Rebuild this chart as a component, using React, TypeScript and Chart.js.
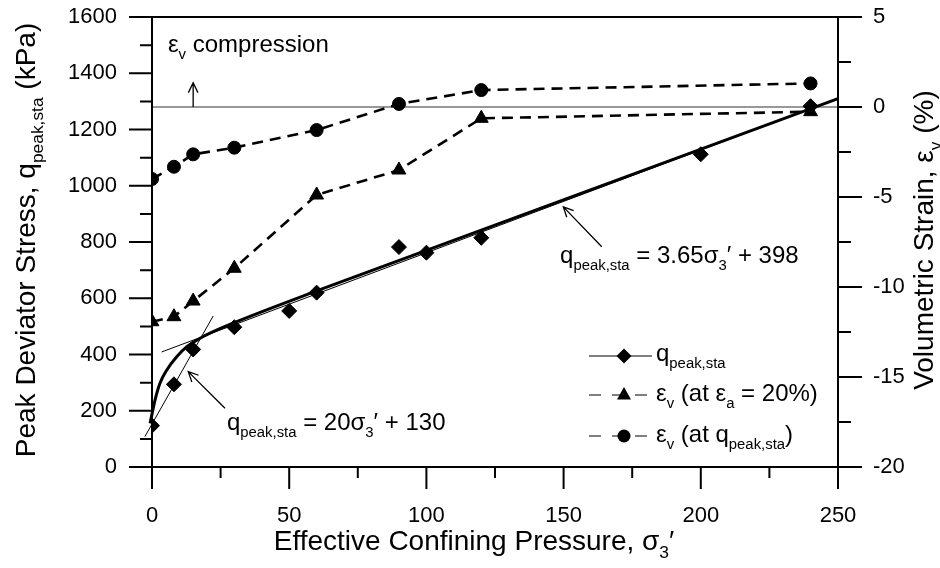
import React, { useEffect, useRef } from 'react';
import { Chart, registerables } from 'chart.js';

Chart.register(...registerables);

// ---- data ----
const sigma3 = [0, 8, 15, 30, 50, 60, 90, 100, 120, 200, 240];
const qPeak = [147, 294, 418, 497, 555, 620, 782, 762, 815, 1112, 1283];

const sigmaEv = [0, 8, 15, 30, 60, 90, 120, 240];
const evAtEa20 = [-11.93, -11.65, -10.78, -8.96, -4.89, -3.5, -0.63, -0.26];
const evAtPeak = [-4.0, -3.32, -2.63, -2.26, -1.28, 0.17, 0.94, 1.31];

const curveX = [-0.7, 1.1, 2.9, 5.4, 9.0, 12.7, 16.9, 22.3, 28.4, 60, 100, 250];
const curveQ = [155, 238, 298, 345, 392, 428, 454, 481, 507, 626, 770, 1310];

const fitHighX = [3.5, 250];
const fitHighQ = [409, 1310];
const fitLowX = [-2.6, 22.3];
const fitLowQ = [108, 537];

const zeroLineX = [0, 250];
const zeroLineEv = [0, 0];

const xTickLabels = ['0', '50', '100', '150', '200', '250'];
const yLeftTickLabels = ['0', '200', '400', '600', '800', '1000', '1200', '1400', '1600'];
const yRightTickLabels = ['-20', '-15', '-10', '-5', '0', '5'];

const FAM = '"Liberation Sans", Arial, Helvetica, sans-serif';

type Seg = { t: string; sub?: boolean };

function drawRich(ctx: CanvasRenderingContext2D, segs: Seg[], x: number, y: number, size: number, align: 'left' | 'center') {
  const subSize = size * 0.62;
  let w = 0;
  for (const s of segs) {
    ctx.font = `${s.sub ? subSize : size}px ${FAM}`;
    w += ctx.measureText(s.t).width;
  }
  let cx = align === 'center' ? x - w / 2 : x;
  ctx.textAlign = 'left';
  ctx.textBaseline = 'alphabetic';
  for (const s of segs) {
    ctx.font = `${s.sub ? subSize : size}px ${FAM}`;
    ctx.fillText(s.t, cx, s.sub ? y + size * 0.28 : y);
    cx += ctx.measureText(s.t).width;
  }
}

function arrow(ctx: CanvasRenderingContext2D, x1: number, y1: number, x2: number, y2: number) {
  ctx.beginPath();
  ctx.moveTo(x1, y1);
  ctx.lineTo(x2, y2);
  const a = Math.atan2(y2 - y1, x2 - x1);
  const L = 11;
  const s = 0.45;
  ctx.moveTo(x2 - L * Math.cos(a - s), y2 - L * Math.sin(a - s));
  ctx.lineTo(x2, y2);
  ctx.lineTo(x2 - L * Math.cos(a + s), y2 - L * Math.sin(a + s));
  ctx.stroke();
}

const decorPlugin = {
  id: 'decor',
  afterDraw(chart: any) {
    const ctx: CanvasRenderingContext2D = chart.ctx;
    const { left, right, top, bottom } = chart.chartArea;
    const xs = chart.scales.x;
    const yl = chart.scales.y;
    const yr = chart.scales.y2;
    ctx.save();
    ctx.strokeStyle = '#000';
    ctx.fillStyle = '#000';
    ctx.lineCap = 'butt';
    ctx.lineWidth = 2;
    ctx.beginPath();
    ctx.moveTo(left, top);
    ctx.lineTo(right, top);
    ctx.moveTo(left, top - 1);
    ctx.lineTo(left, bottom + 1);
    ctx.moveTo(left - 1, bottom);
    ctx.lineTo(right + 1, bottom);
    ctx.moveTo(right, top - 1);
    ctx.lineTo(right, bottom + 1);
    for (let v = 0; v <= 1600; v += 100) {
      const p = yl.getPixelForValue(v);
      const len = v % 200 === 0 ? 23 : 12;
      ctx.moveTo(left - len, p);
      ctx.lineTo(left, p);
    }
    for (let v = 0; v <= 250; v += 25) {
      const p = xs.getPixelForValue(v);
      const len = v % 50 === 0 ? 22 : 11;
      ctx.moveTo(p, bottom);
      ctx.lineTo(p, bottom + len);
    }
    for (let v = -20; v <= 5; v += 2.5) {
      const p = yr.getPixelForValue(v);
      const len = v % 5 === 0 ? 24 : 13;
      ctx.moveTo(right, p);
      ctx.lineTo(right + len, p);
    }
    ctx.stroke();

    const T = 28;
    drawRich(ctx, [{ t: 'Effective Confining Pressure, σ' }, { t: '3', sub: true }, { t: '′' }], 474, 550, T, 'center');
    ctx.save();
    ctx.translate(35, 240);
    ctx.rotate(-Math.PI / 2);
    drawRich(ctx, [{ t: 'Peak Deviator Stress, q' }, { t: 'peak,sta', sub: true }, { t: ' (kPa)' }], 0, 0, T, 'center');
    ctx.restore();
    ctx.save();
    ctx.translate(933, 240);
    ctx.rotate(-Math.PI / 2);
    drawRich(ctx, [{ t: 'Volumetric Strain, ε' }, { t: 'v', sub: true }, { t: ' (%)' }], 0, 0, T, 'center');
    ctx.restore();

    const A = 24;
    ctx.lineWidth = 1.3;
    const cx = xs.getPixelForValue(15);
    arrow(ctx, cx, yr.getPixelForValue(0), cx, yr.getPixelForValue(1.35));
    drawRich(ctx, [{ t: 'ε' }, { t: 'v', sub: true }, { t: ' compression' }], xs.getPixelForValue(5.8), yr.getPixelForValue(3.05), A, 'left');
    arrow(ctx, xs.getPixelForValue(26.6), yl.getPixelForValue(209), xs.getPixelForValue(13.2), yl.getPixelForValue(339));
    drawRich(ctx, [{ t: 'q' }, { t: 'peak,sta', sub: true }, { t: ' = 20σ' }, { t: '3', sub: true }, { t: '′ + 130' }], xs.getPixelForValue(27.3), yl.getPixelForValue(131), A, 'left');
    arrow(ctx, xs.getPixelForValue(163.9), yl.getPixelForValue(783), xs.getPixelForValue(149.9), yl.getPixelForValue(925));
    drawRich(ctx, [{ t: 'q' }, { t: 'peak,sta', sub: true }, { t: ' = 3.65σ' }, { t: '3', sub: true }, { t: '′ + 398' }], xs.getPixelForValue(148.7), yl.getPixelForValue(725), A, 'left');

    const lx0 = 589, lx1 = 652, mx = 624, tx = 656;
    const rows = [361, 401, 442];
    ctx.lineWidth = 1.2;
    ctx.setLineDash([]);
    ctx.beginPath();
    ctx.moveTo(lx0, rows[0] - 5);
    ctx.lineTo(lx1, rows[0] - 5);
    ctx.stroke();
    ctx.beginPath();
    ctx.moveTo(mx - 7.5, rows[0] - 5);
    ctx.lineTo(mx, rows[0] - 12.5);
    ctx.lineTo(mx + 7.5, rows[0] - 5);
    ctx.lineTo(mx, rows[0] + 2.5);
    ctx.closePath();
    ctx.fill();
    drawRich(ctx, [{ t: 'q' }, { t: 'peak,sta', sub: true }], tx, rows[0], A, 'left');
    ctx.setLineDash([12, 11]);
    ctx.beginPath();
    ctx.moveTo(lx0, rows[1] - 6);
    ctx.lineTo(lx1, rows[1] - 6);
    ctx.stroke();
    ctx.setLineDash([]);
    const ty = rows[1] - 6;
    ctx.beginPath();
    ctx.moveTo(mx, ty - 8);
    ctx.lineTo(mx + 7, ty + 4.5);
    ctx.lineTo(mx - 7, ty + 4.5);
    ctx.closePath();
    ctx.fill();
    drawRich(ctx, [{ t: 'ε' }, { t: 'v', sub: true }, { t: ' (at ε' }, { t: 'a', sub: true }, { t: ' = 20%)' }], tx, rows[1], A, 'left');
    ctx.setLineDash([12, 11]);
    ctx.beginPath();
    ctx.moveTo(lx0, rows[2] - 6);
    ctx.lineTo(lx1, rows[2] - 6);
    ctx.stroke();
    ctx.setLineDash([]);
    ctx.beginPath();
    ctx.arc(mx, rows[2] - 6, 6.5, 0, Math.PI * 2);
    ctx.fill();
    drawRich(ctx, [{ t: 'ε' }, { t: 'v', sub: true }, { t: ' (at q' }, { t: 'peak,sta', sub: true }, { t: ')' }], tx, rows[2], A, 'left');

    ctx.restore();
  },
};

function pts(xs: number[], ys: number[]) {
  return xs.map((x, i) => ({ x, y: ys[i] }));
}

const noPadV = (w: number) => (s: any) => { s.width = w; s.paddingTop = 0; s.paddingBottom = 0; };

export default function App() {
  const ref = useRef<HTMLCanvasElement | null>(null);
  useEffect(() => {
    if (!ref.current) return;
    const tickFont = { family: FAM, size: 22 };
    const chart = new Chart(ref.current, {
      type: 'line',
      data: {
        datasets: [
          {
            label: 'q',
            data: pts(sigma3, qPeak),
            yAxisID: 'y',
            showLine: false,
            pointStyle: 'rectRot',
            pointRadius: 7.5,
            pointBackgroundColor: '#000',
            pointBorderColor: '#000',
            pointBorderWidth: 1,
          },
          {
            label: 'ev20',
            data: pts(sigmaEv, evAtEa20),
            yAxisID: 'y2',
            borderColor: '#000',
            borderWidth: 2.6,
            borderDash: [11, 7],
            pointStyle: 'triangle',
            pointRadius: 8,
            pointBackgroundColor: '#000',
            pointBorderColor: '#000',
            pointBorderWidth: 1,
            tension: 0,
          },
          {
            label: 'evPeak',
            data: pts(sigmaEv, evAtPeak),
            yAxisID: 'y2',
            borderColor: '#000',
            borderWidth: 2.6,
            borderDash: [11, 7],
            pointStyle: 'circle',
            pointRadius: 6.5,
            pointBackgroundColor: '#000',
            pointBorderColor: '#000',
            pointBorderWidth: 1,
            tension: 0,
          },
          {
            label: 'curve',
            data: pts(curveX, curveQ),
            yAxisID: 'y',
            borderColor: '#000',
            borderWidth: 3,
            pointRadius: 0,
            cubicInterpolationMode: 'monotone',
            clip: false,
          },
          {
            label: 'fitHigh',
            data: pts(fitHighX, fitHighQ),
            yAxisID: 'y',
            borderColor: '#000',
            borderWidth: 1,
            pointRadius: 0,
          },
          {
            label: 'fitLow',
            data: pts(fitLowX, fitLowQ),
            yAxisID: 'y',
            borderColor: '#000',
            borderWidth: 1,
            pointRadius: 0,
            clip: false,
          },
          {
            label: 'zero',
            data: pts(zeroLineX, zeroLineEv),
            yAxisID: 'y2',
            borderColor: '#333',
            borderWidth: 1.2,
            pointRadius: 0,
          },
        ] as any,
      },
      options: {
        animation: false,
        responsive: false,
        layout: { padding: { top: 17, left: 0, right: 0, bottom: 0 } },
        plugins: { legend: { display: false }, tooltip: { enabled: false } },
        scales: {
          x: {
            type: 'linear',
            position: 'bottom',
            min: 0,
            max: 250,
            afterFit: (s: any) => { s.height = 101; s.paddingLeft = 0; s.paddingRight = 0; },
            afterBuildTicks: (s: any) => { s.ticks = xTickLabels.map((t) => ({ value: Number(t) })); },
            ticks: { font: tickFont, color: '#000', padding: 36, maxRotation: 0, callback: (v: any) => String(v) },
            grid: { display: true, drawOnChartArea: false, drawTicks: false },
            border: { display: false },
          },
          y: {
            type: 'linear',
            position: 'left',
            min: 0,
            max: 1600,
            afterFit: noPadV(152),
            afterBuildTicks: (s: any) => { s.ticks = yLeftTickLabels.map((t) => ({ value: Number(t) })); },
            ticks: { font: tickFont, color: '#000', padding: 35, callback: (v: any) => String(v) },
            grid: { display: true, drawOnChartArea: false, drawTicks: false },
            border: { display: false },
          },
          y2: {
            type: 'linear',
            position: 'right',
            min: -20,
            max: 5,
            afterFit: noPadV(102),
            afterBuildTicks: (s: any) => { s.ticks = yRightTickLabels.map((t) => ({ value: Number(t) })); },
            ticks: { font: tickFont, color: '#000', padding: 35, callback: (v: any) => String(v) },
            grid: { display: true, drawOnChartArea: false, drawTicks: false },
            border: { display: false },
          },
        },
      } as any,
      plugins: [decorPlugin],
    });
    return () => chart.destroy();
  }, []);
  return (
    <div style={{ position: 'absolute', left: 0, top: 0, width: 940, height: 568, background: '#fff' }}>
      <canvas ref={ref} width={940} height={568} style={{ display: 'block' }} />
    </div>
  );
}
